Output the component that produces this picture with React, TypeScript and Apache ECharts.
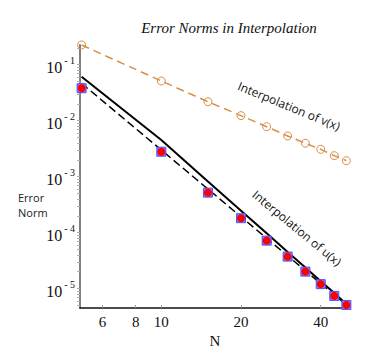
import React, { useEffect, useRef } from "react";
import * as echarts from "echarts";

const N = [5, 10, 15, 20, 25, 30, 35, 40, 45, 50];
const uErr = [0.038, 0.00279, 5.18e-4, 1.81e-4, 7.19e-5, 3.73e-5, 2.01e-5, 1.2e-5, 7.4e-6, 5.1e-6];
const vErr = [0.225, 0.0512, 0.0218, 0.0123, 0.00781, 0.00533, 0.00395, 0.00308, 0.00237, 0.00193];
const uUpper = [0.061, 0.0045, 8.2e-4, 2.47e-4, 9.7e-5, 4.5e-5, 2.37e-5, 1.35e-5, 8.3e-6, 5.3e-6];
const uFit = [0.0465, 0.00299, 6.0e-4, 1.92e-4, 7.9e-5, 3.85e-5, 2.09e-5, 1.23e-5, 7.75e-6, 5.1e-6];
const xTickLabels = [6, 8, 10, 20, 40];
const yDecades = [1e-5, 1e-4, 1e-3, 1e-2, 1e-1];
const mantissas = [1, 2, 3, 4, 5, 6, 7, 8, 9];

const pairs = (ys: number[]) => N.map((n, i) => [n, ys[i]]);

export default function App() {
  const ref = useRef<HTMLDivElement>(null);
  useEffect(() => {
    if (!ref.current) return;
    const chart = echarts.init(ref.current, null, { renderer: "svg" });
    const yMinor: number[] = [];
    [1e-6, ...yDecades].forEach((d) =>
      mantissas.forEach((m) => {
        const v = d * m;
        if (v >= 4.5e-6 && v <= 0.225) yMinor.push(v);
      })
    );
    const orange = "#d78f48";
    const serif = "'Liberation Serif', 'Times New Roman', serif";
    chart.setOption({
      animation: false,
      backgroundColor: "#fff",
      title: {
        text: "Error Norms in Interpolation",
        left: 224,
        top: 15,
        textAlign: "center",
        textStyle: {
          fontFamily: serif,
          fontStyle: "italic",
          fontWeight: "normal",
          fontSize: 15,
          color: "#111",
        },
      },
      grid: { left: 80, right: 35, top: 45, bottom: 49, containLabel: false },
      xAxis: {
        type: "log",
        logBase: 10,
        min: 4.93,
        max: 51.6,
        name: "N",
        nameLocation: "middle",
        nameGap: 23,
        nameTextStyle: { fontFamily: serif, fontSize: 15, color: "#111" },
        axisLine: { show: true, lineStyle: { color: "#111", width: 1.5 } },
        axisTick: { show: true, inside: true, length: 3, customValues: xTickLabels, lineStyle: { color: "#999" } },
        axisLabel: {
          customValues: xTickLabels,
          fontFamily: serif,
          fontSize: 15,
          color: "#111",
          margin: 6,
        },
        splitLine: { show: false },
        minorTick: { show: false },
      },
      yAxis: {
        type: "log",
        logBase: 10,
        min: 4.5e-6,
        max: 0.225,
        axisLine: { show: true, lineStyle: { color: "#808080", width: 2 } },
        axisTick: { show: true, length: 3, customValues: yMinor, lineStyle: { color: "#b0b0b0" } },
        axisLabel: {
          customValues: yDecades,
          margin: 5,
          fontFamily: serif,
          fontSize: 15,
          color: "#111",
          formatter: (v: number) => `{b|10}{s|- ${Math.round(-Math.log10(v))}}`,
          rich: {
            b: { fontFamily: serif, fontSize: 16, color: "#111", padding: [6, 2, 0, 0] },
            s: { fontFamily: serif, fontSize: 10, color: "#111", verticalAlign: "top", padding: [2, 0, 0, 0] },
          },
        },
        splitLine: { show: false },
      },
      graphic: [
        {
          type: "text",
          left: 18,
          top: 190,
          style: {
            text: "Error\nNorm",
            fontFamily: "Open Sans",
            fontSize: 11,
            lineHeight: 15,
            fill: "#222",
            align: "center",
          },
        },
        {
          type: "text",
          x: 289,
          y: 106,
          rotation: (-22.3 * Math.PI) / 180,
          style: {
            text: "Interpolation of v(x)",
            fontFamily: "Open Sans",
            fontSize: 12,
            fill: "#111",
            align: "center",
            verticalAlign: "middle",
          },
        },
        {
          type: "text",
          x: 297,
          y: 228,
          rotation: (-39.6 * Math.PI) / 180,
          style: {
            text: "Interpolation of u(x)",
            fontFamily: "Open Sans",
            fontSize: 12,
            fill: "#111",
            align: "center",
            verticalAlign: "middle",
          },
        },
      ],
      series: [
        {
          type: "line",
          data: pairs(vErr),
          symbol: "circle",
          symbolSize: 8,
          showSymbol: true,
          lineStyle: { color: orange, width: 1.5, type: [8, 5] },
          itemStyle: { color: "rgba(0,0,0,0)", borderColor: orange, borderWidth: 1 },
          z: 2,
        },
        {
          type: "line",
          data: pairs(uUpper),
          symbol: "none",
          lineStyle: { color: "#000", width: 2 },
          z: 3,
        },
        {
          type: "line",
          data: pairs(uFit),
          symbol: "none",
          lineStyle: { color: "#000", width: 1.5, type: [8, 4] },
          z: 3,
        },
        {
          type: "scatter",
          data: pairs(uErr),
          symbol: "rect",
          symbolSize: 9,
          itemStyle: { color: "#7b7bff", borderColor: "#5050ff", borderWidth: 1, opacity: 1 },
          z: 4,
        },
        {
          type: "scatter",
          data: pairs(uErr),
          symbol: "circle",
          symbolSize: 8,
          itemStyle: { color: "#ff0000", opacity: 1 },
          z: 5,
        },
      ],
    });
    return () => chart.dispose();
  }, []);
  return <div ref={ref} style={{ width: 385, height: 357, position: "absolute", left: 0, top: 0 }} />;
}
